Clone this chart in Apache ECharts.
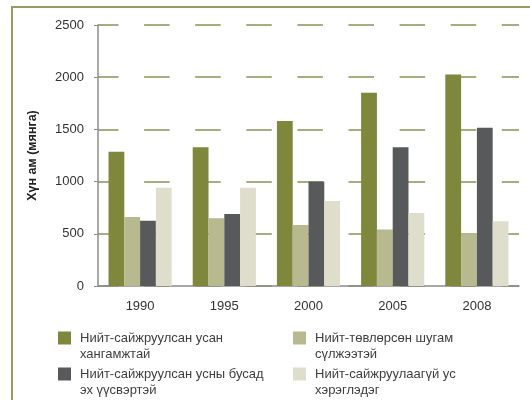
<!DOCTYPE html>
<html>
<head>
<meta charset="utf-8">
<script src="https://cdn.jsdelivr.net/npm/echarts@6/dist/echarts.min.js"></script>
<style>
  body { margin: 0; background: #fff; }
  #frame { position: absolute; left: 11px; top: 6px; width: 519px; height: 394px;
           border-top: 2px solid #9b9c62; border-left: 2px solid #9b9c62; }
  #chart { position: absolute; left: 0; top: 0; width: 530px; height: 400px; }
</style>
</head>
<body>
<div id="frame"></div>
<div id="chart"></div>
<script>
// Хүн ам, усан хангамжийн эх үүсвэрээр (мянга)
var years = ['1990', '1995', '2000', '2005', '2008'];
var seriesNames = [
    'Нийт-сайжруулсан усан\nхангамжтай',
    'Нийт-төвлөрсөн шугам\nсүлжээтэй',
    'Нийт-сайжруулсан усны бусад\nэх үүсвэртэй',
    'Нийт-сайжруулаагүй ус\nхэрэглэдэг'
];
var improvedTotal = [1285, 1330, 1580, 1850, 2025];
var pipedNetwork  = [660, 650, 585, 540, 505];
var otherSources  = [625, 690, 1000, 1330, 1515];
var unimproved    = [940, 940, 815, 700, 620];
var colors = ['#7f873c', '#b8b98f', '#58595b', '#dfdecc'];

var chart = echarts.init(document.getElementById('chart'));

// нэг тайлбар = нэг legend, дүрс нь эхний мөртэй зэрэгцэнэ
function legendAt(i, left, top) {
    return {
        data: [seriesNames[i]],
        left: left,
        top: top,
        padding: 0,
        icon: 'rect',
        itemWidth: 13,
        itemHeight: 13,
        selectedMode: false,
        formatter: function (name) { return '\n' + name; },
        textStyle: {
            color: '#3f3f3f',
            fontSize: 13,
            fontFamily: 'Liberation Sans, Arial, sans-serif',
            lineHeight: 16,
            padding: [0, 0, 0, 4]
        }
    };
}

var vals = [improvedTotal, pipedNetwork, otherSources, unimproved];
var series = [];
for (var i = 0; i < 4; i++) {
    series.push({
        name: seriesNames[i],
        type: 'bar',
        data: vals[i],
        barGap: '0%',
        barCategoryGap: '25%',
        itemStyle: { color: colors[i] }
    });
}

var option = {
    animation: false,
    textStyle: { fontFamily: 'Liberation Sans, Arial, sans-serif' },
    grid: { left: 98, right: 11, top: 25, bottom: 114 },
    legend: [
        legendAt(0, 58, 314),
        legendAt(1, 293, 314),
        legendAt(2, 58, 350),
        legendAt(3, 293, 350)
    ],
    xAxis: {
        type: 'category',
        data: years,
        axisLine: { lineStyle: { color: '#8c8c8c', width: 1.5 } },
        axisTick: { show: false },
        axisLabel: { color: '#333', fontSize: 13, margin: 14 }
    },
    yAxis: {
        type: 'value',
        min: 0,
        max: 2500,
        interval: 500,
        name: 'Хүн ам (мянга)',
        nameLocation: 'middle',
        nameGap: 59,
        nameTextStyle: { color: '#222', fontSize: 12.5, fontWeight: 'bold' },
        axisLine: { show: true, lineStyle: { color: '#8c8c8c', width: 1.5 } },
        axisTick: { show: true, length: 4, lineStyle: { color: '#8c8c8c' } },
        axisLabel: {
            color: '#333', fontSize: 13, margin: 14,
            formatter: function (v) { return String(v); }
        },
        splitLine: {
            lineStyle: { color: '#8a9354', width: 1.5, type: [25.5, 25.6], dashOffset: 5 }
        }
    },
    series: series
};

chart.setOption(option);
</script>
</body>
</html>
